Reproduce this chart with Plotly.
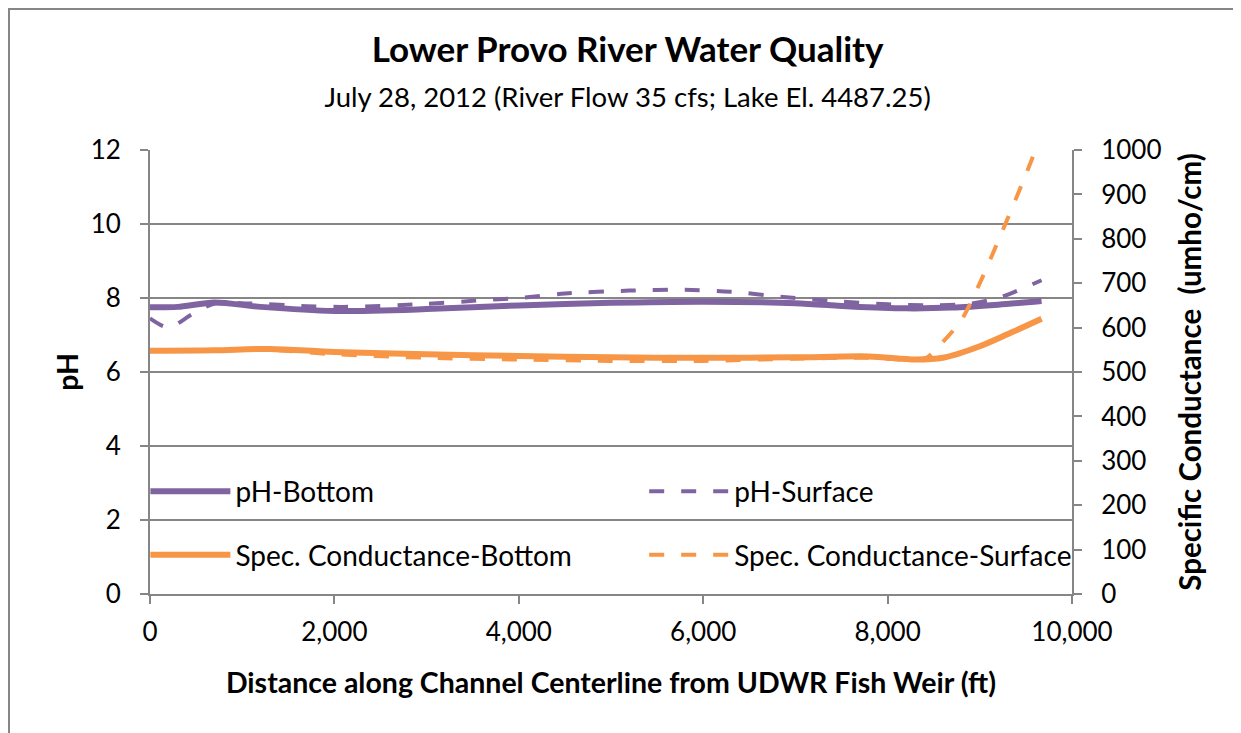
import plotly.graph_objects as go

# ---------------- data ----------------
x_ph_bottom = [0, 300, 700, 1200, 2000, 3000, 4000, 5000, 6000, 7000, 7600, 8200, 8700, 9200, 9670]
ph_bottom = [7.75, 7.76, 7.88, 7.76, 7.65, 7.70, 7.80, 7.87, 7.90, 7.86, 7.77, 7.72, 7.74, 7.82, 7.92]

x_ph_surface = [0, 200, 450, 700, 1100, 1700, 2100, 3000, 3600, 4000, 4500, 5200, 5800, 6300,
                6900, 7500, 8000, 8500, 8900, 9200, 9670]
ph_surface = [7.45, 7.2, 7.55, 7.85, 7.85, 7.78, 7.76, 7.84, 7.94, 8.0, 8.12, 8.2, 8.22, 8.17,
              8.02, 7.9, 7.83, 7.8, 7.85, 8.0, 8.48]

x_sc_bottom = [0, 700, 1300, 2000, 3000, 4000, 5000, 6000, 7000, 7800, 8300, 8600, 9000, 9300, 9670]
sc_bottom = [548, 549, 552, 545, 540, 536, 533, 532, 533, 535, 528, 532, 558, 585, 620]

x_sc_surface = [0, 700, 1300, 2000, 3000, 4000, 5000, 6000, 7000, 7800, 8200, 8420, 8600, 8800,
                9000, 9250, 9500, 9670]
sc_surface = [548, 549, 550, 540, 532, 528, 525, 525, 530, 532, 528, 532, 568, 617,
              700, 820, 945, 1035]

x_ticks = [0, 2000, 4000, 6000, 8000, 10000]
ph_ticks = [0, 2, 4, 6, 8, 10, 12]
sc_ticks = [0, 100, 200, 300, 400, 500, 600, 700, 800, 900, 1000]

title_text = "Lower Provo River Water Quality"
subtitle_text = "July 28, 2012 (River Flow 35 cfs; Lake El. 4487.25)"

# ---------------- style ----------------
PURPLE = "#8064A2"
ORANGE = "#F79646"
GRAY = "#868686"
FONT = "Lato"
DASH = "15px,17px"

fig = go.Figure()

fig.add_trace(go.Scatter(x=x_ph_bottom, y=ph_bottom, name="pH-Bottom", mode="lines",
                         line=dict(color=PURPLE, width=6, shape="spline", smoothing=0.8),
                         legend="legend", legendgroup="a"))
fig.add_trace(go.Scatter(x=x_sc_bottom, y=sc_bottom, name="Spec. Conductance-Bottom", mode="lines",
                         line=dict(color=ORANGE, width=6, shape="spline", smoothing=0.8),
                         yaxis="y2", legend="legend", legendgroup="b"))
fig.add_trace(go.Scatter(x=x_ph_surface, y=ph_surface, name="pH-Surface", mode="lines",
                         line=dict(color=PURPLE, width=4, dash=DASH, shape="spline", smoothing=0.8),
                         legend="legend2", legendgroup="c"))
fig.add_trace(go.Scatter(x=x_sc_surface, y=sc_surface, name="Spec. Conductance-Surface", mode="lines",
                         line=dict(color=ORANGE, width=4, dash=DASH, shape="spline", smoothing=0.8),
                         yaxis="y2", legend="legend2", legendgroup="d"))

axis_common = dict(
    showline=True, linecolor=GRAY, linewidth=2,
    ticks="outside", ticklen=8, tickwidth=2, tickcolor=GRAY,
    tickfont=dict(family=FONT, size=26, color="black"),
    zeroline=False,
)

W, H = 1233, 725
L, T, R, B = 142, 142, 169, 139
PW, PH = W - L - R, H - T - B

legend_common = dict(
    yanchor="top", y=0.287, xanchor="left",
    bgcolor="rgba(0,0,0,0)", font=dict(family=FONT, size=28, color="black"),
    tracegroupgap=24, itemwidth=80, borderwidth=0,
)

fig.update_layout(
    width=W, height=H,
    margin=dict(l=L, r=R, t=T, b=B, autoexpand=False),
    paper_bgcolor="white", plot_bgcolor="white",
    font=dict(family=FONT, color="black"),
    title=dict(
        text="<b>" + title_text + "</b><br><span style='font-size:27.5px'>" + subtitle_text + "</span>",
        font=dict(family=FONT, size=35, color="black"),
        x=0.518, xanchor="center", xref="paper",
        y=0.926, yanchor="top", yref="container",
    ),
    xaxis=dict(
        range=[0, 10000], tickvals=x_ticks, tickformat=",d",
        showgrid=False, ticklabelstandoff=6,
        title=dict(text="<b>Distance along Channel Centerline from UDWR Fish Weir (ft)</b>",
                   font=dict(family=FONT, size=28.5, color="black"), standoff=27),
        **axis_common,
    ),
    yaxis=dict(
        range=[0, 12], tickvals=ph_ticks,
        showgrid=True, gridcolor=GRAY, gridwidth=2,
        ticklabelstandoff=14,
        title=dict(text="<b>pH</b>", font=dict(family=FONT, size=28.5, color="black"), standoff=4),
        **axis_common,
    ),
    yaxis2=dict(
        range=[0, 1000], tickvals=sc_ticks, overlaying="y", side="right",
        showgrid=False, ticklabelstandoff=14,
        title=dict(text="<b>Specific Conductance  (umho/cm)</b>",
                   font=dict(family=FONT, size=29.5, color="black"), standoff=20),
        **axis_common,
    ),
    legend=dict(x=-0.005, **legend_common),
    legend2=dict(x=0.536, **legend_common),
    showlegend=True,
    shapes=[dict(type="rect", xref="paper", yref="paper",
                 x0=(1 - L) / PW, x1=(W + 20 - L) / PW,
                 y0=-(B + 20) / PH, y1=1 + (T - 1) / PH,
                 line=dict(color=GRAY, width=2), fillcolor="rgba(0,0,0,0)", layer="below")],
)

fig.write_html("out.html")
